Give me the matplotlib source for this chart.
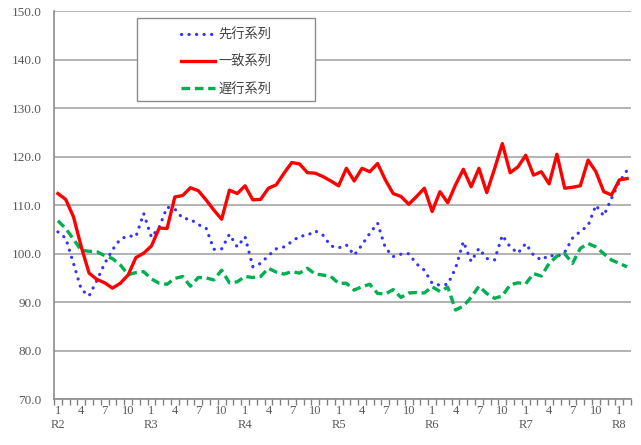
import numpy as np
import matplotlib
matplotlib.use("Agg")
import matplotlib.pyplot as plt
from matplotlib.patches import Rectangle

# ---- data (R2 Jan .. R8 Feb, monthly) ----
series_names = ["先行系列", "一致系列", "遅行系列"]

leading = [104.5, 103.2, 98.0, 92.6, 91.3, 94.5, 98.0, 100.8, 103.0, 103.7, 103.5, 108.3,
           103.4, 105.5, 109.6, 109.2, 107.3, 107.1, 106.0, 105.3, 100.9, 101.0, 104.0, 101.4,
           103.5, 97.3, 98.0, 99.6, 101.0, 101.4, 102.5, 103.6, 103.8, 104.7, 103.8, 101.6,
           101.2, 101.8, 99.7, 101.8, 104.2, 106.3, 101.2, 99.4, 99.9, 100.0, 97.9, 96.6,
           93.9, 93.5, 93.7, 97.0, 102.5, 98.4, 101.1, 99.0, 98.7, 103.8, 101.4, 100.1,
           102.1, 99.7, 98.7, 99.7, 99.4, 100.3, 103.2, 104.6, 105.8, 110.0, 107.8, 111.4,
           114.8, 117.2]

coincident = [112.4, 111.2, 107.6, 101.4, 96.0, 94.7, 94.0, 92.9, 93.9, 95.6, 99.2, 100.1,
              101.6, 105.3, 105.2, 111.7, 112.0, 113.6, 113.0, 111.1, 109.0, 107.1, 113.1, 112.4,
              114.0, 111.1, 111.2, 113.5, 114.2, 116.6, 118.8, 118.5, 116.7, 116.6, 115.9, 115.0,
              114.0, 117.6, 115.0, 117.6, 116.9, 118.6, 115.2, 112.4, 111.8, 110.2, 111.8, 113.5,
              108.7, 112.8, 110.5, 114.2, 117.4, 113.8, 117.6, 112.6, 117.5, 122.7, 116.7, 117.9,
              120.3, 116.2, 116.9, 114.4, 120.5, 113.5, 113.7, 114.0, 119.3, 116.9, 112.8, 112.1,
              115.2, 115.5]

lagging = [106.8, 105.2, 103.0, 100.7, 100.5, 100.4, 99.6, 99.0, 97.7, 95.7, 96.1, 96.3,
           94.8, 93.9, 93.7, 94.9, 95.3, 93.3, 95.1, 95.0, 94.6, 96.6, 94.0, 94.2,
           95.3, 95.1, 95.3, 97.0, 96.2, 95.8, 96.3, 96.0, 97.0, 95.8, 95.6, 95.3,
           93.9, 93.9, 92.5, 93.2, 93.7, 91.8, 91.7, 92.6, 91.0, 91.9, 92.0, 91.9,
           93.2, 92.2, 93.1, 88.4, 89.2, 91.0, 93.3, 91.8, 90.8, 91.3, 93.6, 94.0,
           93.8, 95.9, 95.4, 98.0, 99.5, 100.0, 98.0, 101.1, 102.1, 101.4, 100.0, 98.7,
           98.0, 97.3]

start_year = 2          # 令和2年
label_months = [1, 4, 7, 10]
y_ticks = [70, 80, 90, 100, 110, 120, 130, 140, 150]

n = len(leading)
x = np.arange(n)
months = [(i % 12) + 1 for i in range(n)]
years = [start_year + i // 12 for i in range(n)]

tick_pos = [i for i in range(n) if months[i] in label_months]
tick_lab = [f"{months[i]}\nR{years[i]}" if months[i] == 1 else f"{months[i]}" for i in tick_pos]

# ---- figure ----
W, H = 641, 445
fig = plt.figure(figsize=(W / 100, H / 100), dpi=100)
ax = fig.add_axes([54 / W, 1 - 399.2 / H, (631 - 54) / W, (399.2 - 11.2) / H])

grey = "#A6A6A6"
txt = "#595959"

ax.set_xlim(-0.5, n - 0.5)
ax.set_ylim(70, 150)
ax.set_yticks(y_ticks)
ax.set_yticklabels([f"{v:.1f}" for v in y_ticks])
ax.yaxis.grid(True, color=grey, linewidth=1.2, zorder=0)
ax.set_axisbelow(True)

ax.set_xticks(tick_pos)
ax.set_xticklabels(tick_lab, linespacing=1.3, multialignment="center")
ax.set_xticks(np.arange(-0.5, n, 1), minor=True)
ax.tick_params(axis="x", which="major", length=0, pad=4, colors=txt, labelsize=9)
ax.tick_params(axis="x", which="minor", length=4, width=1, direction="out", color="#808080")
ax.tick_params(axis="y", length=0, pad=9, colors=txt, labelsize=9.5)
for lab in ax.get_xticklabels() + ax.get_yticklabels():
    lab.set_fontfamily("Liberation Serif")

for s in ["top", "right"]:
    ax.spines[s].set_visible(False)
for s in ["left", "bottom"]:
    ax.spines[s].set_color("#8C8C8C")
    ax.spines[s].set_linewidth(1.2)

l1, = ax.plot(x, leading, color="#3333FF", linewidth=2.3, linestyle=(0, (0.05, 2.3)),
              dash_capstyle="round", solid_capstyle="round", zorder=4, label=series_names[0])
l2, = ax.plot(x, coincident, color="#FF0000", linewidth=2.4, zorder=5, label=series_names[1])
l3, = ax.plot(x, lagging, color="#00B050", linewidth=2.4, linestyle=(0, (2.6, 1.4)),
              zorder=4, label=series_names[2])

# legend box
box = Rectangle((137 / W, 1 - 101 / H), (315 - 137) / W, (101 - 18) / H,
                transform=fig.transFigure, facecolor="white", edgecolor="#8C8C8C",
                linewidth=1.0, zorder=6)
fig.patches.append(box)

leg = fig.legend(handles=[l1, l2, l3], loc="upper left",
                 bbox_to_anchor=(181 / W, 1 - 29 / H), frameon=False,
                 prop={"family": ["Noto Sans CJK JP", "DejaVu Sans"], "size": 9.5},
                 handlelength=2.6, handletextpad=0.25, labelspacing=1.05, borderpad=0,
                 borderaxespad=0)
leg.set_zorder(7)
for t in leg.get_texts():
    t.set_color("#404040")

fig.savefig("out.png", dpi=100, facecolor="white")
